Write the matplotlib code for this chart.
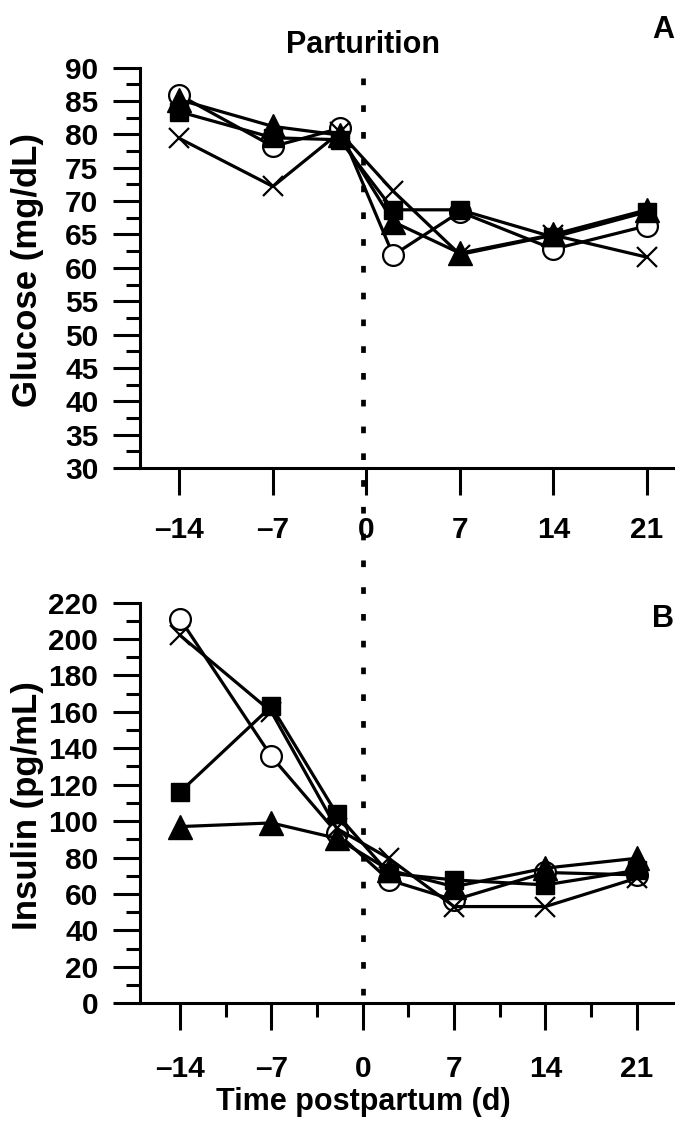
import matplotlib
matplotlib.use("Agg")
import matplotlib.pyplot as plt
from matplotlib.lines import Line2D
from matplotlib.ticker import MultipleLocator

plt.rcParams['font.family'] = ['Liberation Sans', 'DejaVu Sans']
plt.rcParams['font.weight'] = 'bold'

# sampling days relative to parturition
days = [-14, -7, -2, 2, 7, 14, 21]
x_ticks = [-14, -7, 0, 7, 14, 21]
x_tick_labels = ['–14', '–7', '0', '7', '14', '21']

# panel A: glucose (mg/dL)
glucose_circle = [85.9, 78.2, 80.9, 61.9, 68.4, 62.8, 66.3]
glucose_square = [83.4, 79.5, 79.2, 68.7, 68.7, 64.6, 68.4]
glucose_triangle = [85.2, 81.2, 79.9, 66.9, 62.2, 65.0, 68.7]
glucose_cross = [79.4, 72.2, 80.3, 71.5, 62.0, 64.9, 61.6]

# panel B: insulin (pg/mL)
insulin_circle = [211, 135.5, 93.7, 67.7, 56.7, 71.8, 70.5]
insulin_square = [116, 163, 104, 71.4, 67.7, 65.0, 73]
insulin_triangle = [97, 99, 90.6, 73.2, 64, 74.2, 79.6]
insulin_cross = [202, 160, 96, 79.6, 53.1, 53.1, 68.7]

W, H = 675, 1129
fig = plt.figure(figsize=(W / 100, H / 100), dpi=100)

# axes placed in pixel terms
ax1 = fig.add_axes([140 / W, 1 - 468 / H, 535 / W, 400.3 / H])
ax2 = fig.add_axes([140 / W, 1 - 1003.3 / H, 535 / W, 400.8 / H])

styles = [
    dict(marker='o', ms=15, mfc='white', mec='black', mew=1.6, zorder=3),
    dict(marker='s', ms=13.5, mfc='black', mec='black', zorder=4),
    dict(marker='^', ms=17.5, mfc='black', mec='black', zorder=5),
    dict(marker='x', ms=15, mec='black', mew=1.6, zorder=6),
]

def draw(ax, series):
    for vals, st in zip(series, styles):
        ax.plot(days, vals, color='black', lw=2.3, clip_on=False, **st)

draw(ax1, [glucose_circle, glucose_square, glucose_triangle, glucose_cross])
draw(ax2, [insulin_circle, insulin_square, insulin_triangle, insulin_cross])

ax1.set_xlim(-16.95, 23.1)
ax1.set_ylim(30, 90)
ax1.yaxis.set_major_locator(MultipleLocator(5))
ax1.yaxis.set_minor_locator(MultipleLocator(2.5))

ax2.set_xlim(-17.07, 23.93)
ax2.set_ylim(0, 220)
ax2.yaxis.set_major_locator(MultipleLocator(20))
ax2.yaxis.set_minor_locator(MultipleLocator(10))
ax2.xaxis.set_minor_locator(MultipleLocator(3.5))

for ax in (ax1, ax2):
    ax.set_xticks(x_ticks)
    ax.set_xticklabels(x_tick_labels)
    for s in ('top', 'right'):
        ax.spines[s].set_visible(False)
    for s in ('left', 'bottom'):
        ax.spines[s].set_linewidth(2.2)
    ax.tick_params(which='major', direction='out', length=19.5, width=2.2,
                   labelsize=21.5)
    ax.tick_params(which='minor', direction='out', length=10, width=2.2)
    ax.tick_params(axis='y', pad=10.5)
ax1.tick_params(axis='x', pad=15)
ax2.tick_params(axis='x', pad=18)

# dotted parturition line across both panels
fig.add_artist(Line2D([363 / W, 363 / W], [1 - 78 / H, 1 - 995 / H],
                      transform=fig.transFigure, color='black', lw=3.4,
                      dashes=(1.41, 4.26), zorder=10))

fig.text(363 / W, 1 - 45 / H, 'Parturition', ha='center', va='center', fontsize=22)
fig.text(674 / W, 1 - 30 / H, 'A', ha='right', va='center', fontsize=22)
fig.text(674 / W, 1 - 619 / H, 'B', ha='right', va='center', fontsize=22)
fig.text(28 / W, 1 - 270 / H, 'Glucose (mg/dL)', rotation=90, ha='center', va='center', fontsize=25)
fig.text(28 / W, 1 - 806 / H, 'Insulin (pg/mL)', rotation=90, ha='center', va='center', fontsize=25)
fig.text(363 / W, 1 - 1102 / H, 'Time postpartum (d)', ha='center', va='center', fontsize=22)

fig.savefig('out.png', dpi=100)
